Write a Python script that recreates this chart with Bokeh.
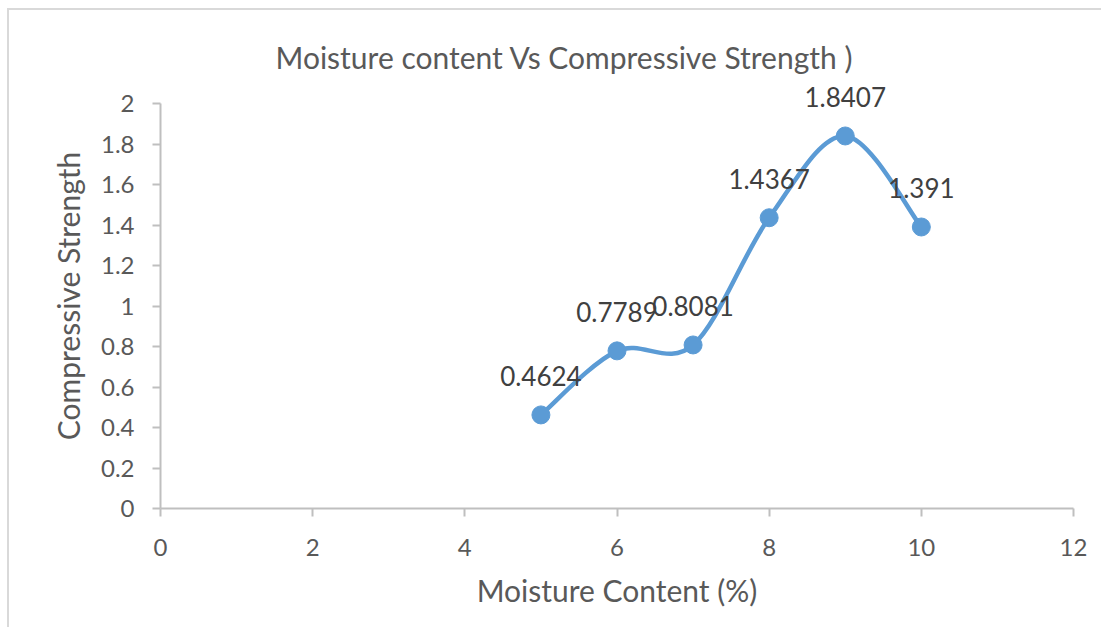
import numpy as np
from bokeh.plotting import figure
from bokeh.models import Range1d, FixedTicker, ColumnDataSource, LabelSet
from bokeh.embed import file_html
from bokeh.resources import INLINE
from bokeh.core.properties import value

# ---- data ----
moisture = [5, 6, 7, 8, 9, 10]
strength = [0.4624, 0.7789, 0.8081, 1.4367, 1.8407, 1.391]
point_labels = ["0.4624", "0.7789", "0.8081", "1.4367", "1.8407", "1.391"]
x_ticks = [0, 2, 4, 6, 8, 10, 12]
y_ticks = [0, 0.2, 0.4, 0.6, 0.8, 1.0, 1.2, 1.4, 1.6, 1.8, 2.0]
title_text = "Moisture content Vs Compressive Strength )"
x_title = "Moisture Content (%)"
y_title = "Compressive Strength"

FONT = "Lato"
BLUE = "#5B9BD5"
AXIS = "#BFBFBF"
TXT = "#595959"

# y range extends a little above the axis (axis line bounded at 2) so the top data label is not clipped
p = figure(width=1094, height=619, x_range=Range1d(0, 12), y_range=Range1d(0, 2.1),
           output_backend="svg", toolbar_location=None,
           min_border_left=151, min_border_right=30, min_border_top=73, min_border_bottom=121,
           styles={"margin-left": "7px", "margin-top": "8px",
                   "border-top": "2px solid #D9D9D9", "border-left": "2px solid #D9D9D9"})
p.outline_line_color = None
p.xgrid.visible = False
p.ygrid.visible = False

p.title.text = title_text
p.title.align = "left"
p.title.offset = 115
p.title.vertical_align = "bottom"
p.title.text_font = FONT
p.title.text_font_size = "30px"
p.title.text_font_style = "normal"
p.title.text_color = TXT
p.title.standoff = 18

for ax, ticks in ((p.xaxis[0], x_ticks), (p.yaxis[0], y_ticks)):
    ax.ticker = FixedTicker(ticks=ticks)
    ax.major_label_overrides = {t: f"{t:g}" for t in ticks}
    ax.axis_line_color = AXIS
    ax.axis_line_width = 2
    ax.major_tick_line_color = AXIS
    ax.major_tick_line_width = 2
    ax.major_tick_out = 8
    ax.major_tick_in = 0
    ax.minor_tick_line_color = None
    ax.major_label_text_font = FONT
    ax.major_label_text_font_size = "24px"
    ax.major_label_text_color = TXT
    ax.axis_label_text_font = FONT
    ax.axis_label_text_font_size = "30px"
    ax.axis_label_text_font_style = "normal"
    ax.axis_label_text_color = TXT

p.yaxis.bounds = (y_ticks[0], y_ticks[-1])
p.xaxis.axis_label = x_title
p.yaxis.axis_label = y_title
p.xaxis.major_label_standoff = 22
p.yaxis.major_label_standoff = 18
p.xaxis.axis_label_standoff = 13
p.yaxis.axis_label_standoff = 12

# smooth (Excel-like) curve as cubic Bezier segments from the data points
xs = np.array(moisture, dtype=float)
ys = np.array(strength, dtype=float)
n = len(xs)
px = np.concatenate([[xs[0]], xs, [xs[-1]]])
py = np.concatenate([[ys[0]], ys, [ys[-1]]])
seg = dict(x0=[], y0=[], x1=[], y1=[], cx0=[], cy0=[], cx1=[], cy1=[])
for i in range(n - 1):
    j = i + 1
    seg["x0"].append(px[j]); seg["y0"].append(py[j])
    seg["x1"].append(px[j + 1]); seg["y1"].append(py[j + 1])
    seg["cx0"].append(px[j] + (px[j + 1] - px[j - 1]) / 6)
    seg["cy0"].append(py[j] + (py[j + 1] - py[j - 1]) / 6)
    seg["cx1"].append(px[j + 1] - (px[j + 2] - px[j]) / 6)
    seg["cy1"].append(py[j + 1] - (py[j + 2] - py[j]) / 6)
p.bezier(x0="x0", y0="y0", x1="x1", y1="y1", cx0="cx0", cy0="cy0", cx1="cx1", cy1="cy1",
         source=ColumnDataSource(seg), line_color=BLUE, line_width=4.5)

src = ColumnDataSource(dict(x=moisture, y=strength, lab=point_labels))
p.scatter("x", "y", source=src, size=18, fill_color=BLUE, line_color=BLUE)
labels = LabelSet(x="x", y="y", text="lab", source=src, text_align="center",
                  text_baseline="bottom", y_offset=29, text_font=value(FONT),
                  text_font_size="26px", text_color="#404040")
p.add_layout(labels)

open("out.html", "w").write(file_html(p, INLINE))
